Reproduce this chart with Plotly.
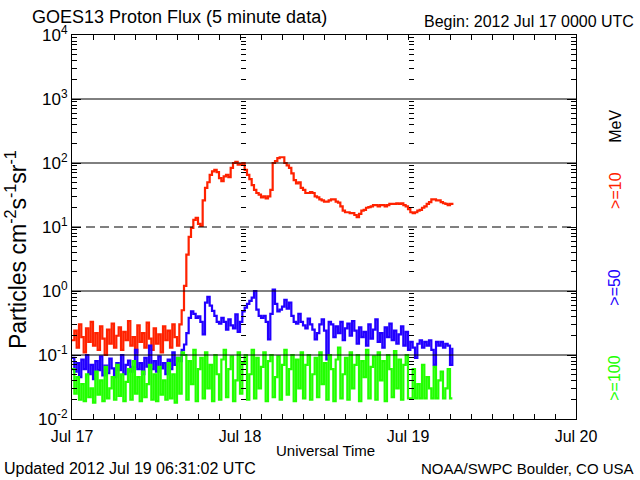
import plotly.graph_objects as go
import pandas as pd

# ---- data (5-minute GOES13 proton flux, resampled every 20 min) ----
start = "2012-07-17 00:00"
step = "20min"

p10 = [
    0.17, 0.24, 0.13, 0.30, 0.19, 0.11, 0.26, 0.16, 0.33, 0.14,
    0.22, 0.12, 0.28, 0.18, 0.10, 0.25, 0.15, 0.31, 0.13, 0.20,
    0.27, 0.12, 0.23, 0.17, 0.34, 0.14, 0.19, 0.11, 0.29, 0.16,
    0.22, 0.13, 0.32, 0.18, 0.12, 0.26, 0.15, 0.21, 0.11, 0.28,
    0.17, 0.24, 0.13, 0.30, 0.19, 0.14, 0.30, 0.50,
    1.2, 3.7, 7.0, 9.7, 12.9, 13.9, 11.2, 10.4, 26, 41,
    50, 65, 74, 78, 72, 58, 52, 62, 65, 60,
    84, 100, 104, 94, 97, 100, 78, 65, 56, 45,
    38, 34, 32, 29, 30, 28, 30, 38, 100, 107,
    119, 123, 123, 100, 92, 84, 69, 54, 48, 50,
    41, 38, 34, 34, 35, 34, 30, 29, 27, 26,
    25, 25, 26, 27, 27, 25, 24, 21, 18, 17,
    17, 16.5, 16.5, 15.4, 14.3, 16, 18, 18.5, 20, 20.5,
    21, 22, 22, 21, 22, 22, 21, 22, 23, 23,
    23, 23.5, 23, 23.5, 22, 21, 19, 17, 16.5, 17,
    18, 18.5, 20, 21, 23, 24.5, 27, 27, 26, 26,
    24.5, 23.5, 23, 22, 23, 22,
]

p50 = [
    0.09, 0.055, 0.075, 0.045, 0.085, 0.06, 0.1, 0.05, 0.07, 0.042,
    0.08, 0.058, 0.095, 0.048, 0.068, 0.052, 0.088, 0.062, 0.045, 0.075,
    0.058, 0.1, 0.05, 0.07, 0.082, 0.055, 0.065, 0.12, 0.06, 0.075,
    0.05, 0.09, 0.066, 0.14, 0.06, 0.08, 0.055, 0.095, 0.062, 0.075,
    0.05, 0.085, 0.06, 0.11, 0.07, 0.09, 0.08, 0.12,
    0.146, 0.22, 0.38, 0.48, 0.44, 0.38, 0.40, 0.33, 0.21, 0.66,
    0.81, 0.59, 0.49, 0.41, 0.33, 0.31, 0.38, 0.33, 0.25, 0.36,
    0.29, 0.26, 0.43, 0.23, 0.33, 0.48, 0.55, 0.63, 0.70, 0.79,
    1.0, 0.51, 0.41, 0.38, 0.41, 0.33, 0.175, 0.44, 1.05, 0.63,
    0.48, 0.51, 0.57, 0.73, 0.53, 0.66, 0.41, 0.33, 0.31, 0.44,
    0.33, 0.29, 0.26, 0.37, 0.30, 0.25, 0.175, 0.22, 0.30, 0.36,
    0.24, 0.085, 0.33, 0.30, 0.19, 0.28, 0.22, 0.33, 0.17, 0.26,
    0.31, 0.2, 0.34, 0.24, 0.15, 0.27, 0.19, 0.23, 0.14, 0.3,
    0.18, 0.25, 0.36, 0.16, 0.22, 0.13, 0.27, 0.19, 0.31, 0.17,
    0.24, 0.15, 0.21, 0.28, 0.14, 0.23, 0.12, 0.16, 0.13, 0.09,
    0.15, 0.17, 0.13, 0.16, 0.14, 0.17, 0.12, 0.07, 0.16, 0.14,
    0.16, 0.13, 0.15, 0.14, 0.07, 0.13,
]

p100 = [
    0.06, 0.025, 0.045, 0.02, 0.035, 0.019, 0.05, 0.022, 0.03, 0.018,
    0.055, 0.024, 0.04, 0.019, 0.065, 0.021, 0.03, 0.045, 0.02, 0.07,
    0.023, 0.05, 0.019, 0.038, 0.06, 0.02, 0.08, 0.025, 0.045, 0.019,
    0.055, 0.022, 0.035, 0.07, 0.02, 0.05, 0.019, 0.065, 0.024, 0.04,
    0.02, 0.075, 0.021, 0.05, 0.018, 0.09, 0.025, 0.11,
    0.10, 0.02, 0.08, 0.035, 0.12, 0.019, 0.06, 0.09, 0.021, 0.11,
    0.03, 0.07, 0.019, 0.10, 0.05, 0.02, 0.085, 0.12, 0.022, 0.06,
    0.095, 0.019, 0.04, 0.11, 0.025, 0.075, 0.10, 0.02, 0.05, 0.12,
    0.021, 0.09, 0.03, 0.065, 0.11, 0.019, 0.08, 0.10, 0.022, 0.045,
    0.095, 0.02, 0.07, 0.12, 0.024, 0.06, 0.10, 0.019, 0.085, 0.03,
    0.11, 0.021, 0.07, 0.10, 0.02, 0.05, 0.09, 0.022, 0.11, 0.035,
    0.075, 0.02, 0.10, 0.06, 0.019, 0.085, 0.13, 0.021, 0.05, 0.09,
    0.02, 0.11, 0.03, 0.07, 0.10, 0.019, 0.08, 0.045, 0.12, 0.021,
    0.065, 0.095, 0.02, 0.11, 0.04, 0.08, 0.019, 0.10, 0.06, 0.022,
    0.115, 0.03, 0.085, 0.02, 0.07, 0.10, 0.021,
    0.021, 0.06, 0.021, 0.035, 0.021, 0.07, 0.021, 0.045, 0.03, 0.021,
    0.065, 0.021, 0.04, 0.055, 0.021, 0.03, 0.06, 0.021, 0.021,
]

series_names = [">=10", ">=50", ">=100"]
series_colors = ["#ff2200", "#2200ff", "#22ff00"]

decades = [-2, -1, 0, 1, 2, 3, 4]
solid_grid = [0.1, 1, 100, 1000]
dashed_grid = [10]
day_labels = ["Jul 17", "Jul 18", "Jul 19", "Jul 20"]
x_start, x_end = "2012-07-17 00:00", "2012-07-20 00:00"

FONT = "Liberation Sans"

def times(n):
    return pd.date_range(start, periods=n, freq=step)

fig = go.Figure()
for vals, name, col in [(p10, series_names[0], series_colors[0]),
                        (p50, series_names[1], series_colors[1]),
                        (p100, series_names[2], series_colors[2])]:
    fig.add_trace(go.Scatter(x=times(len(vals)), y=vals, mode="lines", name=name,
                             line=dict(color=col, width=2.2, shape="hv"),
                             showlegend=False, hoverinfo="skip"))

# empty traces so the day-boundary tick axes get drawn
for ax in ["y2", "y3"]:
    fig.add_trace(go.Scatter(x=[], y=[], yaxis=ax, mode="lines",
                             showlegend=False, hoverinfo="skip"))

ytickvals = [10.0 ** d for d in decades]
yticktext = ["10<sup>%d</sup>" % d for d in decades]
minor_vals = [m * 10.0 ** d for d in decades[:-1] for m in range(2, 10)]

day_ticks = pd.date_range(x_start, x_end, freq="1D")
hour_ticks = [t for t in pd.date_range(x_start, x_end, freq="3h") if t.hour != 0]

fig.update_layout(
    width=640, height=480, autosize=False,
    margin=dict(l=72, r=64, t=35, b=61, autoexpand=False),
    paper_bgcolor="white", plot_bgcolor="white",
    font=dict(family=FONT, color="black", size=16),
    showlegend=False,
    xaxis=dict(
        type="date", range=[x_start, x_end],
        tickmode="array", tickvals=day_ticks, ticktext=day_labels,
        ticks="inside", ticklen=5, tickcolor="black", tickwidth=1,
        minor=dict(tickmode="array", tickvals=hour_ticks, ticks="inside",
                   ticklen=5, tickcolor="black", showgrid=False),
        showline=True, linecolor="black", linewidth=1, mirror="allticks",
        showgrid=False, zeroline=False, tickfont=dict(size=16),
        tickangle=0, automargin=False, ticklabelstandoff=3,
    ),
    yaxis=dict(
        type="log", range=[-2, 4],
        tickmode="array", tickvals=ytickvals, ticktext=yticktext,
        ticks="inside", ticklen=9, tickcolor="black", tickwidth=1,
        minor=dict(tickmode="array", tickvals=minor_vals, ticks="inside",
                   ticklen=5, tickcolor="black", showgrid=False),
        showline=True, linecolor="black", linewidth=1, mirror="allticks",
        showgrid=False, zeroline=False, tickfont=dict(size=17),
        automargin=False,
    ),
)

# tick columns at day boundaries (Jul 18, Jul 19)
for k, pos in [(2, 1 / 3), (3, 2 / 3)]:
    fig.layout["yaxis%d" % k] = dict(
        type="log", range=[-2, 4], overlaying="y", anchor="free", position=pos,
        side="right", tickmode="array", tickvals=minor_vals, ticks="outside",
        ticklen=5, tickcolor="black", tickwidth=1, showticklabels=False,
        showline=False, showgrid=False, zeroline=False, automargin=False,
    )

for v in solid_grid:
    fig.add_shape(type="line", xref="paper", x0=0, x1=1, yref="y", y0=v, y1=v,
                  layer="above", line=dict(color="black", width=1))
for v in dashed_grid:
    fig.add_shape(type="line", xref="paper", x0=0, x1=1, yref="y", y0=v, y1=v,
                  layer="above", line=dict(color="black", width=1, dash="9px,5px"))

ann = [
    dict(text="GOES13 Proton Flux (5 minute data)", x=-0.083, y=1.047,
         xanchor="left", yanchor="middle", font=dict(size=18)),
    dict(text="Begin: 2012 Jul 17 0000 UTC", x=1.119, y=1.034,
         xanchor="right", yanchor="middle", font=dict(size=16)),
    dict(text="Particles cm<sup>-2</sup>s<sup>-1</sup>sr<sup>-1</sup>", x=-0.111, y=0.44,
         xanchor="center", yanchor="middle", textangle=-90, font=dict(size=23)),
    dict(text="Universal Time", x=0.502, y=-0.081,
         xanchor="center", yanchor="middle", font=dict(size=15)),
    dict(text="Updated 2012 Jul 19 06:31:02 UTC", x=-0.139, y=-0.128,
         xanchor="left", yanchor="middle", font=dict(size=16)),
    dict(text="NOAA/SWPC Boulder, CO USA", x=1.119, y=-0.128,
         xanchor="right", yanchor="middle", font=dict(size=15)),
    dict(text="MeV", x=1.077, y=0.763, xanchor="center", yanchor="middle",
         textangle=-90, font=dict(size=16, color="black")),
    dict(text=series_names[0], x=1.077, y=0.596, xanchor="center", yanchor="middle",
         textangle=-90, font=dict(size=16, color=series_colors[0])),
    dict(text=series_names[1], x=1.077, y=0.344, xanchor="center", yanchor="middle",
         textangle=-90, font=dict(size=16, color=series_colors[1])),
    dict(text=series_names[2], x=1.077, y=0.107, xanchor="center", yanchor="middle",
         textangle=-90, font=dict(size=16, color=series_colors[2])),
]
for a in ann:
    a.update(xref="paper", yref="paper", showarrow=False)
    fig.add_annotation(**a)

fig.write_html("out.html", config={"displayModeBar": False},
               post_script="document.body.style.margin='0px';"
                           "document.body.style.overflow='hidden';")
